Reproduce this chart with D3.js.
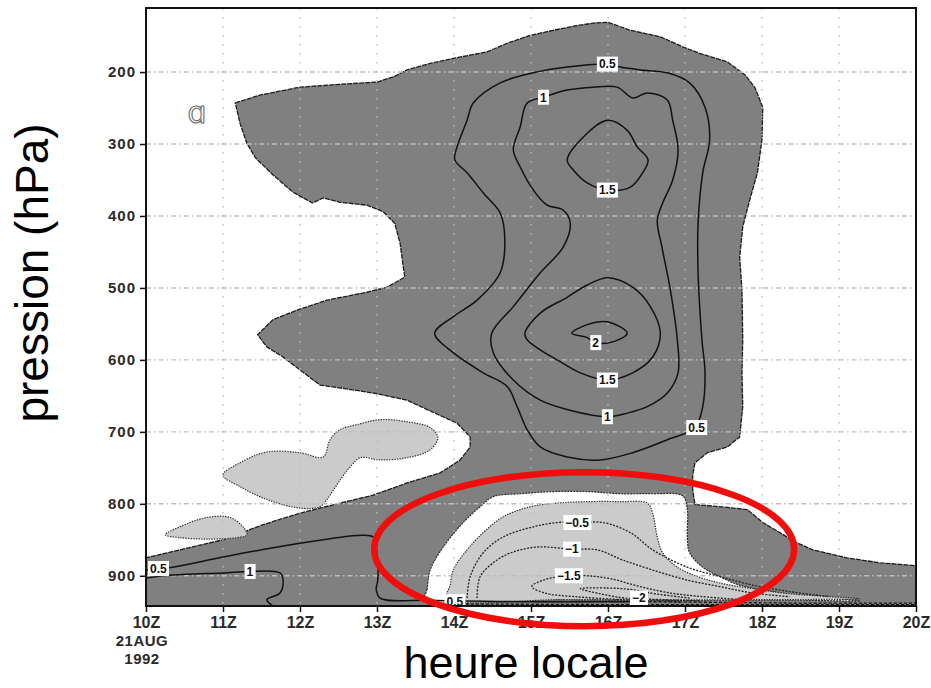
<!DOCTYPE html>
<html>
<head>
<meta charset="utf-8">
<script src="https://cdn.jsdelivr.net/npm/d3@7"></script>
<style>
  html, body { margin: 0; padding: 0; background: #fff; }
  svg { display: block; }
</style>
</head>
<body>
<svg id="chart" width="931" height="688"></svg>
<script>
// ---- axes -------------------------------------------------------------
const hourTicks = [10, 11, 12, 13, 14, 15, 16, 17, 18, 19, 20];
const hourLabels = ["10Z", "11Z", "12Z", "13Z", "14Z", "15Z", "16Z", "17Z", "18Z", "19Z", "20Z"];
const pressureTicks = [200, 300, 400, 500, 600, 700, 800, 900];
const hourDomain = [10, 20];
const pressureDomain = [111, 942];

// ---- shaded areas, outlines as [hour, hPa] ----------------------------
// field above the upper contour level (dark shading)
const positiveArea = [
  [11.16,243],[11.48,232],[12.00,221],[12.52,217],[13.00,214],[13.23,206],[13.39,197],
  [13.69,188],[13.99,181],[14.43,172],[14.69,160],[14.99,149],[15.29,142],[15.57,136],
  [15.81,132],[16.00,131],[16.29,142],[16.68,151],[16.97,165],[17.19,174],[17.55,186],
  [17.78,204],[17.91,222],[18.01,249],[18.00,294],[17.94,340],[17.84,378],[17.75,415],
  [17.71,457],[17.74,503],[17.75,572],[17.74,618],[17.75,665],[17.71,707],[17.55,721],
  [17.29,729],[17.13,743],[17.10,760],[17.10,781],[17.13,801],[17.45,804],[17.81,808],
  [18.01,826],[18.23,840],[18.45,854],[18.66,864],[19.10,875],[19.53,882],[20.00,886],
  [20.00,942],[10.00,942],[10.00,875],[10.44,864],[11.00,850],[11.52,829],[12.00,813],
  [12.52,799],[12.95,788],[13.39,771],[13.82,757],[14.08,739],[14.21,721],[14.21,707],
  [14.04,688],[13.65,669],[13.39,656],[12.95,646],[12.52,639],[12.26,635],[12.00,614],
  [11.78,596],[11.57,582],[11.45,565],[11.65,544],[11.96,531],[12.35,517],[12.87,506],
  [13.13,499],[13.36,485],[13.30,438],[13.23,410],[13.08,394],[12.87,385],[12.52,381],
  [12.30,375],[12.16,382],[11.91,367],[11.65,343],[11.42,319],[11.31,299],[11.22,271]
];
// unshaded pocket below the convective column
const gapArea = [
  [13.62,933],[13.65,919],[13.69,892],[13.86,860],[14.12,826],[14.34,804],[14.51,790],
  [14.86,786],[15.29,783],[15.73,783],[16.16,786],[16.58,786],[16.97,789],[17.03,808],
  [17.03,846],[17.06,868],[17.23,888],[17.45,901],[17.71,913],[18.10,921],[18.49,928],
  [19.01,932],[19.27,935],[18.49,934],[16.50,934],[15.00,933]
];
// field below the lower contour level (light shading)
const negativeArea = [
  [13.91,931],[13.95,913],[13.99,892],[14.17,864],[14.38,840],[14.64,818],[14.99,804],
  [15.34,799],[15.73,797],[16.16,797],[16.51,799],[16.58,813],[16.64,846],[16.71,868],
  [16.90,888],[17.16,901],[17.45,910],[17.88,918],[18.36,925],[18.88,929],[19.27,932],
  [18.50,933],[15.50,933]
];
const negativeBlobSmall = [
  [10.25,843],[10.44,832],[10.79,819],[11.09,819],[11.26,832],[11.31,843],
  [11.18,847],[10.79,849],[10.44,847]
];
const negativeBlobLarge = [
  [11.00,760],[11.22,743],[11.57,728],[12.00,729],[12.30,735],[12.39,711],[12.52,697],
  [12.74,690],[13.04,683],[13.39,686],[13.69,694],[13.79,708],[13.69,725],[13.39,736],
  [13.04,739],[12.78,736],[12.65,749],[12.52,767],[12.35,794],[12.26,804],[12.00,806],
  [11.57,794],[11.22,776]
];

// ---- positive contours (closed) ---------------------------------------
const contour05 = [
  [15.99,189],[15.47,193],[15.03,201],[14.60,215],[14.25,243],[14.17,267],[14.04,304],
  [14.01,322],[14.17,340],[14.38,368],[14.60,396],[14.66,433],[14.60,479],[14.30,517],
  [13.99,540],[13.75,563],[13.99,590],[14.38,618],[14.69,637],[14.82,665],[14.95,697],
  [15.12,721],[15.47,735],[15.90,739],[16.32,729],[16.77,711],[17.13,694],[17.23,665],
  [17.26,618],[17.22,572],[17.17,479],[17.17,410],[17.23,340],[17.32,294],[17.26,249],
  [17.06,215],[16.77,201],[16.42,197],[16.16,193]
];
const contour10 = [
  [15.16,235],[15.47,225],[15.81,221],[16.12,221],[16.32,236],[16.51,229],[16.77,239],
  [16.84,267],[16.91,308],[16.84,350],[16.71,382],[16.64,406],[16.70,443],[16.81,503],
  [16.90,572],[16.91,618],[16.77,646],[16.51,665],[16.25,674],[15.99,679],[15.47,669],
  [15.12,656],[14.77,628],[14.51,590],[14.49,563],[14.77,526],[15.12,479],[15.42,443],
  [15.51,410],[15.42,392],[15.21,385],[15.03,364],[14.86,332],[14.77,308],[14.86,276],
  [14.95,243]
];
const contour15Upper = [
  [15.47,322],[15.73,285],[16.00,267],[16.25,281],[16.38,304],[16.52,322],[16.45,340],
  [16.29,360],[15.99,364],[15.73,354],[15.55,336]
];
const contour15Lower = [
  [14.92,563],[15.12,535],[15.47,513],[15.73,496],[16.00,486],[16.32,499],[16.55,526],
  [16.68,563],[16.58,596],[16.32,618],[15.99,628],[15.64,618],[15.34,600],[15.12,586],
  [14.95,572]
];
const contour20 = [
  [15.53,563],[15.73,551],[15.99,547],[16.25,563],[16.06,575],[15.84,576],[15.73,569]
];
// low-level band (open lines)
const contour05Low = [
  [10.00,892],[10.35,888],[11.00,874],[11.65,861],[12.30,850],[12.74,844],[12.95,846],
  [13.00,868],[13.01,906],[12.99,919],[13.04,931],[13.69,934],[15.00,936],[16.40,936]
];
const contour10Low = [
  [10.00,903],[10.35,899],[11.00,896],[11.35,894],[11.74,896],[11.78,906],[11.74,924],
  [11.57,933],[11.65,942]
];
const groundLine1 = [[16.40,936],[17.50,937],[18.50,938],[20.00,938]];
const groundLine2 = [[13.70,939],[16.00,940],[18.00,940],[20.00,940]];

// ---- negative contours (dashed) ---------------------------------------
const contourM05 = [
  [14.17,931],[14.21,901],[14.38,868],[14.64,846],[14.99,833],[15.34,826],[15.66,826],
  [15.94,826],[16.29,840],[16.58,864],[17.03,888],[17.45,901],[17.88,913],[18.36,922],
  [18.88,929]
];
const contourM10 = [
  [14.30,931],[14.34,901],[14.56,878],[14.77,867],[15.08,860],[15.53,863],[15.86,864],
  [16.19,878],[16.58,892],[17.03,906],[17.45,915],[17.88,924],[18.36,929]
];
const contourM15 = [
  [17.71,933],[17.23,929],[16.81,924],[16.38,914],[16.03,904],[15.73,900],[15.48,900],
  [15.16,906],[15.01,915],[15.18,924],[15.57,929],[16.16,933],[16.94,936]
];
const contourM20 = [
  [17.06,931],[16.61,925],[16.29,919],[15.99,917],[15.64,918],[15.90,925],[16.22,931],
  [16.68,933],[17.19,935]
];

// ---- contour labels ---------------------------------------------------
const labelText     = ["0.5", "1", "1.5", "2", "1.5", "1", "0.5", "0.5", "1", "\u22120.5", "\u22121", "\u22121.5", "\u22122", "0.5"];
const labelHour     = [15.99, 15.16, 15.99, 15.84, 15.99, 15.99, 17.15, 10.16, 11.35, 15.60, 15.53, 15.49, 16.40, 14.01];
const labelPressure = [189,   235,   364,   576,   628,   679,   694,   890,   894,   826,   863,   900,   931,   936];

// ---- drawing ------------------------------------------------------------
const svg = d3.select("#chart");
const W = 931, H = 688;
const plot = { left: 146, right: 916, top: 8, bottom: 606 };

svg.append("rect").attr("width", W).attr("height", H).attr("fill", "#fff");

const x = d3.scaleLinear().domain(hourDomain).range([plot.left, plot.right]);
const y = d3.scaleLinear().domain(pressureDomain).range([plot.top, plot.bottom]);

svg.append("clipPath").attr("id", "plotClip")
  .append("rect")
  .attr("x", plot.left).attr("y", plot.top)
  .attr("width", plot.right - plot.left).attr("height", plot.bottom - plot.top);

const g = svg.append("g").attr("clip-path", "url(#plotClip)");

const polyLinear = d3.line().x(d => x(d[0])).y(d => y(d[1])).curve(d3.curveLinearClosed);
const smoothClosed = d3.line().x(d => x(d[0])).y(d => y(d[1])).curve(d3.curveCatmullRomClosed.alpha(0.5));
const smoothOpen = d3.line().x(d => x(d[0])).y(d => y(d[1])).curve(d3.curveCatmullRom.alpha(0.5));

const DARK = "#808080", LIGHT = "#cbcbcb";

// shaded areas
g.append("path").attr("d", polyLinear(positiveArea))
  .attr("fill", DARK).attr("stroke", "#1c1c1c").attr("stroke-width", 1.3)
  .attr("stroke-dasharray", "5,1").attr("stroke-linejoin", "round");
g.append("path").attr("d", smoothClosed(gapArea))
  .attr("fill", "#fff").attr("stroke", "#2a2a2a").attr("stroke-width", 1.2)
  .attr("stroke-dasharray", "2,1");
[negativeArea, negativeBlobSmall, negativeBlobLarge].forEach(area => {
  g.append("path").attr("d", smoothClosed(area))
    .attr("fill", LIGHT).attr("stroke", "#333").attr("stroke-width", 1.2)
    .attr("stroke-dasharray", "1.4,1.2");
});

// grid
const gridColor = "#bdbdbd";
g.selectAll("line.vgrid").data(hourTicks.slice(1, -1)).enter().append("line")
  .attr("x1", d => x(d)).attr("x2", d => x(d))
  .attr("y1", plot.top).attr("y2", plot.bottom)
  .attr("stroke", gridColor).attr("stroke-width", 1.4).attr("stroke-dasharray", "1.6,7.4");
g.selectAll("line.hgrid").data(pressureTicks).enter().append("line")
  .attr("x1", plot.left).attr("x2", plot.right)
  .attr("y1", d => y(d)).attr("y2", d => y(d))
  .attr("stroke", gridColor).attr("stroke-width", 1.4).attr("stroke-dasharray", "5,3,1.6,3");

// positive contours
[contour05, contour10, contour15Upper, contour15Lower, contour20].forEach(c => {
  g.append("path").attr("d", smoothClosed(c))
    .attr("fill", "none").attr("stroke", "#111").attr("stroke-width", 1.5);
});
[contour05Low, contour10Low].forEach(c => {
  g.append("path").attr("d", smoothOpen(c))
    .attr("fill", "none").attr("stroke", "#111").attr("stroke-width", 1.5);
});
[groundLine1, groundLine2].forEach(c => {
  g.append("path").attr("d", smoothOpen(c))
    .attr("fill", "none").attr("stroke", "#111").attr("stroke-width", 1.3)
    .attr("stroke-dasharray", "3,2");
});

// negative contours
[contourM05, contourM10, contourM15, contourM20].forEach(c => {
  g.append("path").attr("d", smoothOpen(c))
    .attr("fill", "none").attr("stroke", "#222").attr("stroke-width", 1.3)
    .attr("stroke-dasharray", "2,1.4");
});

// contour labels
labelText.forEach((t, i) => {
  const lg = g.append("g").attr("transform", `translate(${x(labelHour[i])},${y(labelPressure[i])})`);
  const txt = lg.append("text")
    .attr("text-anchor", "middle").attr("dy", "0.36em")
    .attr("font-family", "Liberation Sans, Arial, sans-serif")
    .attr("font-size", 12).attr("font-weight", "bold").attr("fill", "#111")
    .text(t);
  const bb = txt.node().getBBox();
  lg.insert("rect", "text")
    .attr("x", bb.x - 2).attr("y", -7.5)
    .attr("width", bb.width + 4).attr("height", 15)
    .attr("fill", "#fff");
});

// panel letter
svg.append("text")
  .attr("x", 197).attr("y", 123)
  .attr("text-anchor", "middle")
  .attr("font-family", "DejaVu Sans, sans-serif")
  .attr("font-size", 30)
  .attr("fill", "#fff").attr("stroke", "#6a6a6a").attr("stroke-width", 1.1)
  .text("\u0251");

// frame
svg.append("rect")
  .attr("x", plot.left).attr("y", plot.top)
  .attr("width", plot.right - plot.left).attr("height", plot.bottom - plot.top)
  .attr("fill", "none").attr("stroke", "#111").attr("stroke-width", 2);

// axes
const tickFont = "Liberation Sans, Arial, sans-serif";
const yAxis = svg.append("g").attr("transform", `translate(${plot.left},0)`)
  .call(d3.axisLeft(y).tickValues(pressureTicks).tickSize(6).tickPadding(4));
yAxis.select(".domain").remove();
yAxis.selectAll(".tick line").attr("stroke", "#111").attr("stroke-width", 1.5);
yAxis.selectAll(".tick text")
  .attr("font-family", tickFont).attr("font-size", 15).attr("font-weight", "bold")
  .attr("fill", "#2a2a2a").attr("letter-spacing", "1px");

const xAxis = svg.append("g").attr("transform", `translate(0,${plot.bottom})`)
  .call(d3.axisBottom(x).tickValues(hourTicks).tickSize(6).tickPadding(5)
    .tickFormat((d, i) => hourLabels[i]));
xAxis.select(".domain").remove();
xAxis.selectAll(".tick line").attr("stroke", "#111").attr("stroke-width", 1.5);
xAxis.selectAll(".tick text")
  .attr("font-family", tickFont).attr("font-size", 16).attr("font-weight", "bold")
  .attr("fill", "#2a2a2a");

// date under the first time tick
[["21AUG", 646], ["1992", 664]].forEach(([t, yy]) => {
  svg.append("text")
    .attr("x", x(10) - 4).attr("y", yy).attr("text-anchor", "middle")
    .attr("font-family", tickFont).attr("font-size", 15).attr("font-weight", "bold")
    .attr("fill", "#2a2a2a").attr("letter-spacing", "0.5px")
    .text(t);
});

// axis titles
svg.append("text")
  .attr("transform", "translate(48,273) rotate(-90)")
  .attr("text-anchor", "middle")
  .attr("font-family", "Liberation Sans, Arial, sans-serif")
  .attr("font-size", 46).attr("fill", "#000")
  .text("pression (hPa)");
svg.append("text")
  .attr("x", 526).attr("y", 678)
  .attr("text-anchor", "middle")
  .attr("font-family", "Liberation Sans, Arial, sans-serif")
  .attr("font-size", 45).attr("fill", "#000")
  .text("heure locale");

// highlight around the low-level pocket
svg.append("ellipse")
  .attr("cx", x(15.69)).attr("cy", y(863))
  .attr("rx", 210).attr("ry", 77)
  .attr("fill", "none").attr("stroke", "#f20d0d").attr("stroke-width", 6.5);
</script>
</body>
</html>
